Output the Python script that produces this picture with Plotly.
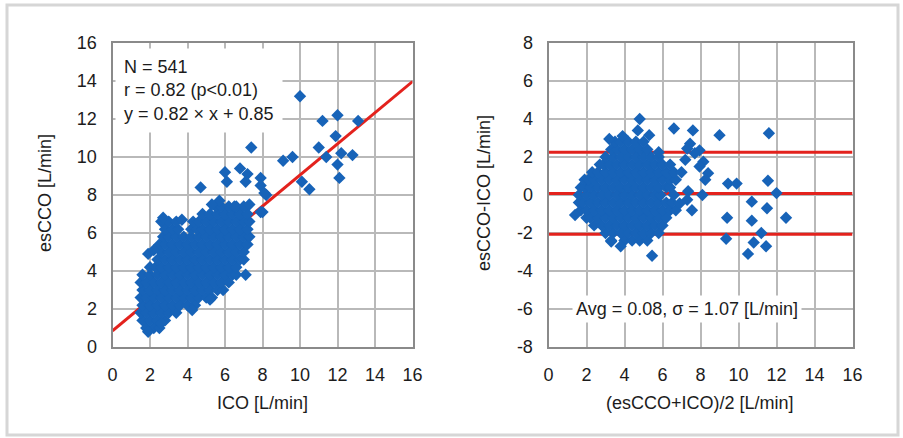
import plotly.graph_objects as go

# ---------------- data ----------------
# Left panel (ICO vs esCCO): dense cluster, given row by row (esCCO level -> ICO values)
left_row_y = [1.0, 1.4, 1.8, 2.2, 2.6, 3.0, 3.4, 3.8, 4.2, 4.6, 5.0, 5.4, 5.8, 6.2, 6.6, 7.0, 7.4]
left_row_x = [
    [1.8, 2.2, 2.5],
    [1.6, 2.0, 2.4, 2.8],
    [1.5, 1.8, 2.2, 2.6, 3.0, 3.4],
    [1.6, 2.0, 2.4, 2.8, 3.2, 3.6, 4.0, 4.4],
    [1.5, 1.8, 2.2, 2.6, 3.0, 3.4, 3.8, 4.2, 4.6, 5.0, 5.3],
    [1.6, 2.0, 2.4, 2.8, 3.2, 3.6, 4.0, 4.4, 4.8, 5.2, 5.6, 5.9],
    [1.5, 1.8, 2.2, 2.6, 3.0, 3.4, 3.8, 4.2, 4.6, 5.0, 5.4, 5.8, 6.2],
    [1.6, 2.0, 2.4, 2.8, 3.2, 3.6, 4.0, 4.4, 4.8, 5.2, 5.6, 6.0, 6.4, 6.6],
    [2.0, 2.3, 2.6, 3.0, 3.4, 3.8, 4.2, 4.6, 5.0, 5.4, 5.8, 6.2, 6.6],
    [2.4, 2.8, 3.2, 3.6, 4.0, 4.4, 4.8, 5.2, 5.6, 6.0, 6.4, 6.8, 7.0],
    [2.6, 3.0, 3.4, 3.8, 4.2, 4.6, 5.0, 5.4, 5.8, 6.2, 6.6, 7.0],
    [2.5, 2.8, 3.2, 3.6, 4.0, 4.4, 4.8, 5.2, 5.6, 6.0, 6.4, 6.8, 7.2],
    [2.7, 3.0, 3.4, 3.8, 4.2, 4.6, 5.0, 5.4, 5.8, 6.2, 6.6, 7.0, 7.3],
    [2.8, 3.2, 3.5, 4.2, 4.5, 4.8, 5.2, 5.6, 6.0, 6.4, 6.8, 7.2],
    [2.6, 3.0, 3.4, 4.3, 4.6, 5.0, 5.4, 5.8, 6.2, 6.6, 7.0, 7.3],
    [4.8, 5.2, 5.6, 6.0, 6.4, 6.8, 7.2],
    [5.5, 5.8, 6.2, 6.6, 7.0],
]
# Left panel: scattered points outside the dense cluster (ICO, esCCO)
left_out_x = [10.0, 11.2, 12.0, 13.1, 11.9, 7.4, 11.0, 9.1, 9.6, 11.4, 12.2, 12.8, 12.0, 12.1,
              10.1, 10.5, 7.9, 6.8, 7.2, 7.9, 7.9, 8.2, 7.3, 7.1, 4.7, 6.0, 6.1, 5.7, 6.5, 5.3,
              7.1, 5.2, 4.25, 2.6, 1.9, 1.9, 2.2, 2.7, 3.7, 8.1, 8.0]
left_out_y = [13.2, 11.9, 12.2, 11.9, 11.1, 10.5, 10.5, 9.8, 10.0, 10.0, 10.2, 10.1, 9.6, 8.9,
              8.7, 8.3, 7.1, 9.4, 9.1, 8.9, 8.5, 8.0, 7.5, 8.7, 8.4, 9.2, 8.7, 7.7, 7.4, 7.5,
              3.8, 2.5, 1.95, 1.25, 0.8, 4.9, 5.1, 6.8, 6.7, 8.1, 7.1]

# Right panel (mean vs difference): dense cluster, row by row (difference level -> mean values)
right_row_y = [-2.4, -2.0, -1.6, -1.2, -0.8, -0.4, 0.0, 0.4, 0.8, 1.2, 1.6, 2.0, 2.4, 2.8]
right_row_x = [
    [3.3, 4.0, 4.4, 4.8, 5.2],
    [3.0, 3.4, 3.8, 4.2, 4.6, 5.0, 5.4, 5.8],
    [2.4, 2.8, 3.2, 3.6, 4.0, 4.4, 4.8, 5.2, 5.6, 6.0],
    [2.0, 2.2, 2.6, 3.0, 3.4, 3.8, 4.2, 4.6, 5.0, 5.4, 5.8, 6.2],
    [1.7, 2.0, 2.4, 2.8, 3.2, 3.6, 4.0, 4.4, 4.8, 5.2, 5.6, 6.0, 6.4, 6.7],
    [1.6, 1.8, 2.2, 2.6, 3.0, 3.4, 3.8, 4.2, 4.6, 5.0, 5.4, 5.8, 6.2, 6.5],
    [1.6, 2.0, 2.4, 2.8, 3.2, 3.6, 4.0, 4.4, 4.8, 5.2, 5.6, 5.9],
    [1.7, 1.9, 2.2, 2.6, 3.0, 3.4, 3.8, 4.2, 4.6, 5.0, 5.4, 5.8, 6.2, 6.4],
    [1.9, 2.1, 2.4, 2.8, 3.2, 3.6, 4.0, 4.4, 4.8, 5.2, 5.6, 6.0, 6.4, 6.7],
    [2.3, 2.6, 3.0, 3.4, 3.8, 4.2, 4.6, 5.0, 5.4, 5.8, 6.2, 6.6],
    [2.7, 2.9, 3.2, 3.6, 4.0, 4.4, 4.8, 5.2, 5.6, 6.0, 6.4],
    [3.0, 3.4, 3.8, 4.2, 4.6, 5.0, 5.4, 5.8],
    [3.3, 3.6, 4.0, 4.4, 4.8, 5.2],
    [3.5, 3.8, 4.2, 4.6, 5.0],
]
# Right panel: scattered points outside the dense cluster (mean, difference)
right_out_x = [1.4, 4.8, 6.6, 7.6, 9.0, 11.6, 7.45, 7.95, 7.2, 8.15, 7.95, 8.4, 8.25, 9.45, 9.9,
               11.55, 12.0, 8.1, 7.35, 7.55, 10.7, 11.5, 12.5, 9.4, 10.7, 11.2, 9.35, 10.8, 11.45,
               10.5, 7.0, 7.3, 5.45, 5.8, 7.3, 7.7, 6.9, 6.6, 3.2, 3.9, 4.7, 5.3, 3.8, 3.3]
right_out_y = [-1.05, 4.0, 3.5, 3.4, 3.15, 3.25, 2.7, 2.35, 1.85, 1.75, 1.5, 1.15, 0.8, 0.6, 0.6,
               0.75, 0.1, 0.0, 0.2, -0.8, -0.35, -0.7, -1.2, -1.2, -1.35, -2.0, -2.3, -2.5, -2.7,
               -3.1, 1.2, -0.25, -3.2, 2.25, 2.45, 2.2, -0.45, 0.0, 2.95, 3.1, 3.4, 3.15, -2.7, -2.45]

# regression line and agreement limits (from the chart text / picture)
reg_slope = 0.82
reg_intercept = 0.85
reg_x_range = [0, 16]
limit_values = [2.25, 0.08, -2.07]
limit_x_range = [0, 16]

ticks_vals = [0, 2, 4, 6, 8, 10, 12, 14, 16]
ticks_text = ["0", "2", "4", "6", "8", "10", "12", "14", "16"]
ticks_vals_diff = [-8, -6, -4, -2, 0, 2, 4, 6, 8]
ticks_text_diff = ["-8", "-6", "-4", "-2", "0", "2", "4", "6", "8"]

left_text = "N = 541<br>r = 0.82 (p&lt;0.01)<br>y = 0.82 × x + 0.85"
right_text = "Avg = 0.08, σ = 1.07 [L/min]"
left_xtitle = "ICO [L/min]"
left_ytitle = "esCCO [L/min]"
right_xtitle = "(esCCO+ICO)/2 [L/min]"
right_ytitle = "esCCO-ICO [L/min]"

# ---------------- assemble point lists ----------------
left_x, left_y = [], []
for yv, xs in zip(left_row_y, left_row_x):
    left_x += xs
    left_y += [yv] * len(xs)
left_x += left_out_x
left_y += left_out_y

right_x, right_y = [], []
for yv, xs in zip(right_row_y, right_row_x):
    right_x += xs
    right_y += [yv] * len(xs)
right_x += right_out_x
right_y += right_out_y

# ---------------- figure ----------------
W, H = 903, 438
BLUE = "#1763b8"
RED = "#e3221d"
GRID = "#b9b9b9"
AXLINE = "#8a8a8a"
FONT = "Liberation Sans, Arial, sans-serif"
TXT = "#1c1c1c"


def px_x(p):
    return p / W


def px_y(p):
    return 1 - p / H


fig = go.Figure()

reg_y = [reg_slope * v + reg_intercept for v in reg_x_range]
fig.add_trace(go.Scatter(x=reg_x_range, y=reg_y, mode="lines",
                         line=dict(color=RED, width=3), xaxis="x", yaxis="y",
                         showlegend=False, hoverinfo="skip"))
fig.add_trace(go.Scatter(x=left_x, y=left_y, mode="markers", xaxis="x", yaxis="y",
                         showlegend=False,
                         marker=dict(symbol="diamond", size=9.5, color=BLUE, line=dict(width=0))))

for v in limit_values:
    fig.add_trace(go.Scatter(x=limit_x_range, y=[v, v], mode="lines",
                             line=dict(color=RED, width=3), xaxis="x2", yaxis="y2",
                             showlegend=False, hoverinfo="skip"))
fig.add_trace(go.Scatter(x=right_x, y=right_y, mode="markers", xaxis="x2", yaxis="y2",
                         showlegend=False,
                         marker=dict(symbol="diamond", size=9.5, color=BLUE, line=dict(width=0))))

plot_top, plot_bottom = 43, 347
l_left, l_right = 112.5, 412.5
r_left, r_right = 548.5, 852.5

axis_common = dict(showgrid=True, gridcolor=GRID, gridwidth=1.5, zeroline=False,
                   showline=True, linecolor=AXLINE, linewidth=2, mirror=True,
                   ticks="", automargin=False, tickmode="array",
                   tickfont=dict(family=FONT, size=18, color=TXT))

fig.update_layout(
    template="none",
    width=W, height=H, autosize=False,
    margin=dict(l=0, r=0, t=0, b=0, pad=0, autoexpand=False),
    paper_bgcolor="white", plot_bgcolor="white",
    showlegend=False,
    xaxis=dict(domain=[px_x(l_left), px_x(l_right)], range=[0, 16], tickvals=ticks_vals,
               ticktext=ticks_text, anchor="y", ticklabelstandoff=10, **axis_common),
    yaxis=dict(domain=[px_y(plot_bottom), px_y(plot_top)], range=[0, 16], tickvals=ticks_vals,
               ticktext=ticks_text, anchor="x", ticklabelstandoff=10, **axis_common),
    xaxis2=dict(domain=[px_x(r_left), px_x(r_right)], range=[0, 16], tickvals=ticks_vals,
                ticktext=ticks_text, anchor="y2", ticklabelstandoff=10, **axis_common),
    yaxis2=dict(domain=[px_y(plot_bottom), px_y(plot_top)], range=[-8, 8],
                tickvals=ticks_vals_diff, ticktext=ticks_text_diff, anchor="x2",
                ticklabelstandoff=10, **axis_common),
)

annots = [
    dict(text=left_text, xref="x domain", yref="y domain", x=0, y=1, xanchor="left",
         yanchor="top", xshift=2, yshift=-5, align="left", bgcolor="white", borderpad=8,
         showarrow=False, font=dict(family=FONT, size=18, color=TXT)),
    dict(text=right_text, xref="x2", yref="y2", x=7.3, y=-6.0, xanchor="center",
         yanchor="middle", bgcolor="white", borderpad=3, showarrow=False,
         font=dict(family=FONT, size=18, color=TXT)),
    dict(text=left_xtitle, xref="paper", yref="paper", x=px_x(262.5), y=px_y(402.5),
         xanchor="center", yanchor="middle", showarrow=False,
         font=dict(family=FONT, size=18, color=TXT)),
    dict(text=right_xtitle, xref="paper", yref="paper", x=px_x(700), y=px_y(402.5),
         xanchor="center", yanchor="middle", showarrow=False,
         font=dict(family=FONT, size=18, color=TXT)),
    dict(text=left_ytitle, xref="paper", yref="paper", x=px_x(45), y=px_y(193),
         xanchor="center", yanchor="middle", textangle=-90, showarrow=False,
         font=dict(family=FONT, size=18, color=TXT)),
    dict(text=right_ytitle, xref="paper", yref="paper", x=px_x(484), y=px_y(193),
         xanchor="center", yanchor="middle", textangle=-90, showarrow=False,
         font=dict(family=FONT, size=18, color=TXT)),
]
fig.update_layout(annotations=annots)

fig.add_shape(type="rect", xref="paper", yref="paper",
              x0=px_x(7), x1=px_x(898), y0=px_y(435), y1=px_y(5),
              line=dict(color="#d6d6d6", width=3), fillcolor="rgba(0,0,0,0)", layer="below")

fig.write_html("out.html", config={"displayModeBar": False},
               post_script="document.body.style.margin='0px';")
